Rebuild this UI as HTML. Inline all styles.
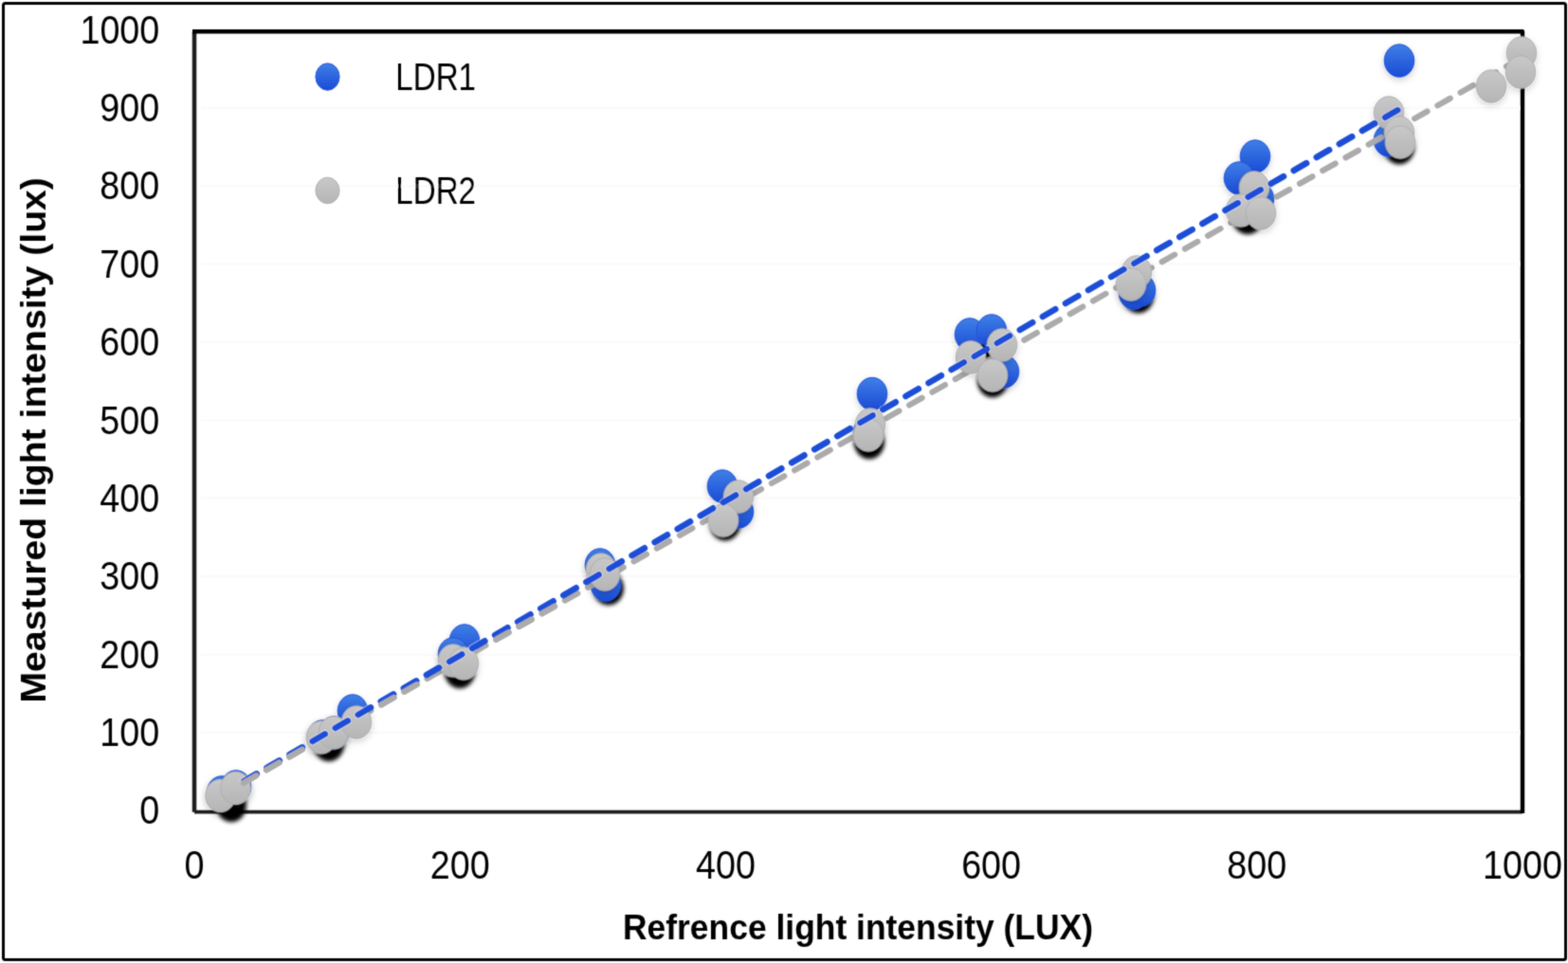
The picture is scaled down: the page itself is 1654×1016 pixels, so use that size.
<!DOCTYPE html>
<html><head><meta charset="utf-8"><title>LDR calibration chart</title>
<style>
html,body{margin:0;padding:0;background:#fff;}
svg{display:block;}
text{font-family:"Liberation Sans",Arial,sans-serif;fill:#000;}
</style></head><body>
<svg width="1654" height="1016" viewBox="0 0 1654 1016">
<defs>
<linearGradient id="gb" x1="0" y1="0" x2="0" y2="1">
<stop offset="0" stop-color="#3f7fe6"/><stop offset="1" stop-color="#1a4bd6"/></linearGradient>
<linearGradient id="gg" x1="0" y1="0" x2="0" y2="1">
<stop offset="0" stop-color="#c8c8c8"/><stop offset="1" stop-color="#b5b5b5"/></linearGradient>
<filter id="sh" x="-50%" y="-50%" width="200%" height="200%">
<feDropShadow dx="0" dy="3" stdDeviation="3.5" flood-color="#000" flood-opacity="0.18"/></filter>
<filter id="bl" x="-50%" y="-50%" width="200%" height="200%"><feGaussianBlur stdDeviation="2.2"/></filter>
<filter id="soft" x="0" y="0" width="100%" height="100%" filterUnits="userSpaceOnUse"><feConvolveMatrix order="3" kernelMatrix="1 4 1 4 16 4 1 4 1" divisor="36" edgeMode="duplicate" preserveAlpha="false"/></filter>
<filter id="ln" x="-5%" y="-5%" width="110%" height="110%"><feGaussianBlur stdDeviation="0.6"/></filter>
<clipPath id="lowclip"><rect x="251.8" y="560" width="72.6" height="300"/><rect x="397.1" y="560" width="48.4" height="300"/><rect x="518.2" y="560" width="72.6" height="300"/></clipPath>
<clipPath id="dotclip"><ellipse cx="232.5" cy="839.5" rx="15.8" ry="17.2"/><ellipse cx="248.5" cy="831.5" rx="15.8" ry="17.2"/><ellipse cx="339" cy="778" rx="15.8" ry="17.2"/><ellipse cx="352" cy="773" rx="15.8" ry="17.2"/><ellipse cx="376" cy="762" rx="15.8" ry="17.2"/><ellipse cx="478" cy="697" rx="15.8" ry="17.2"/><ellipse cx="489" cy="700" rx="15.8" ry="17.2"/><ellipse cx="634" cy="601" rx="15.8" ry="17.2"/><ellipse cx="638" cy="606" rx="15.8" ry="17.2"/><ellipse cx="779" cy="524" rx="15.8" ry="17.2"/><ellipse cx="763" cy="549" rx="15.8" ry="17.2"/><ellipse cx="918" cy="448" rx="15.8" ry="17.2"/><ellipse cx="916" cy="459" rx="15.8" ry="17.2"/><ellipse cx="1057" cy="364" rx="15.8" ry="17.2"/><ellipse cx="1024" cy="377" rx="15.8" ry="17.2"/><ellipse cx="1047" cy="396" rx="15.8" ry="17.2"/><ellipse cx="1199" cy="287" rx="15.8" ry="17.2"/><ellipse cx="1193" cy="300" rx="15.8" ry="17.2"/><ellipse cx="1323" cy="198" rx="15.8" ry="17.2"/><ellipse cx="1309" cy="222" rx="15.8" ry="17.2"/><ellipse cx="1330" cy="225" rx="15.8" ry="17.2"/><ellipse cx="1465" cy="119" rx="15.8" ry="17.2"/><ellipse cx="1476" cy="140" rx="15.8" ry="17.2"/><ellipse cx="1477" cy="150" rx="15.8" ry="17.2"/><ellipse cx="1573" cy="91" rx="15.8" ry="17.2"/><ellipse cx="1605" cy="56" rx="15.8" ry="17.2"/><ellipse cx="1604" cy="76" rx="15.8" ry="17.2"/><ellipse cx="249" cy="830" rx="15.8" ry="17.2"/><ellipse cx="234" cy="836" rx="15.8" ry="17.2"/><ellipse cx="372" cy="750" rx="15.8" ry="17.2"/><ellipse cx="340" cy="777" rx="15.8" ry="17.2"/><ellipse cx="352" cy="773" rx="15.8" ry="17.2"/><ellipse cx="490" cy="676" rx="15.8" ry="17.2"/><ellipse cx="478" cy="690" rx="15.8" ry="17.2"/><ellipse cx="633" cy="596" rx="15.8" ry="17.2"/><ellipse cx="639" cy="617" rx="15.8" ry="17.2"/><ellipse cx="762" cy="513" rx="15.8" ry="17.2"/><ellipse cx="779" cy="540" rx="15.8" ry="17.2"/><ellipse cx="920" cy="415.5" rx="15.8" ry="17.2"/><ellipse cx="916" cy="456" rx="15.8" ry="17.2"/><ellipse cx="1023" cy="353" rx="15.8" ry="17.2"/><ellipse cx="1046" cy="349" rx="15.8" ry="17.2"/><ellipse cx="1059" cy="392" rx="15.8" ry="17.2"/><ellipse cx="1196" cy="309" rx="15.8" ry="17.2"/><ellipse cx="1203" cy="306" rx="15.8" ry="17.2"/><ellipse cx="1324" cy="165" rx="15.8" ry="17.2"/><ellipse cx="1307" cy="188" rx="15.8" ry="17.2"/><ellipse cx="1328" cy="210" rx="15.8" ry="17.2"/><ellipse cx="1476" cy="64" rx="15.8" ry="17.2"/><ellipse cx="1465" cy="148" rx="15.8" ry="17.2"/></clipPath>
</defs>
<rect x="0" y="0" width="1654" height="1016" fill="#fff"/>
<g filter="url(#soft)">
<rect x="3.5" y="3.5" width="1648" height="1009" rx="2" fill="none" stroke="#000" stroke-width="3"/>
<line x1="212" y1="772.8" x2="1603" y2="772.8" stroke="#fbfbfb" stroke-width="3"/>
<line x1="212" y1="690.5" x2="1603" y2="690.5" stroke="#fbfbfb" stroke-width="3"/>
<line x1="212" y1="608.1" x2="1603" y2="608.1" stroke="#fbfbfb" stroke-width="3"/>
<line x1="212" y1="525.7" x2="1603" y2="525.7" stroke="#fbfbfb" stroke-width="3"/>
<line x1="212" y1="443.4" x2="1603" y2="443.4" stroke="#fbfbfb" stroke-width="3"/>
<line x1="212" y1="361.0" x2="1603" y2="361.0" stroke="#fbfbfb" stroke-width="3"/>
<line x1="212" y1="278.6" x2="1603" y2="278.6" stroke="#fbfbfb" stroke-width="3"/>
<line x1="212" y1="196.2" x2="1603" y2="196.2" stroke="#fbfbfb" stroke-width="3"/>
<line x1="212" y1="113.9" x2="1603" y2="113.9" stroke="#fbfbfb" stroke-width="3"/>
<path d="M205,856.7 L205,33.3" stroke="#1c1c1c" stroke-width="4.5" fill="none"/>
<path d="M205,856.7 L1606,856.7" stroke="#1c1c1c" stroke-width="3.8" fill="none"/>
<path d="M203,33.3 L1606,33.3 L1606,858" stroke="#000" stroke-width="4.4" fill="none" stroke-linejoin="round"/>
<text transform="translate(168.3 869.3) scale(0.9 1)" font-size="41.9" text-anchor="end">0</text>
<text transform="translate(168.3 786.9) scale(0.9 1)" font-size="41.9" text-anchor="end">100</text>
<text transform="translate(168.3 704.6) scale(0.9 1)" font-size="41.9" text-anchor="end">200</text>
<text transform="translate(168.3 622.2) scale(0.9 1)" font-size="41.9" text-anchor="end">300</text>
<text transform="translate(168.3 539.8) scale(0.9 1)" font-size="41.9" text-anchor="end">400</text>
<text transform="translate(168.3 457.5) scale(0.9 1)" font-size="41.9" text-anchor="end">500</text>
<text transform="translate(168.3 375.1) scale(0.9 1)" font-size="41.9" text-anchor="end">600</text>
<text transform="translate(168.3 292.7) scale(0.9 1)" font-size="41.9" text-anchor="end">700</text>
<text transform="translate(168.3 210.3) scale(0.9 1)" font-size="41.9" text-anchor="end">800</text>
<text transform="translate(168.3 128.0) scale(0.9 1)" font-size="41.9" text-anchor="end">900</text>
<text transform="translate(168.3 45.6) scale(0.9 1)" font-size="41.9" text-anchor="end">1000</text>
<text transform="translate(205.0 927.4) scale(0.9 1)" font-size="41.9" text-anchor="middle">0</text>
<text transform="translate(485.2 927.4) scale(0.9 1)" font-size="41.9" text-anchor="middle">200</text>
<text transform="translate(765.4 927.4) scale(0.9 1)" font-size="41.9" text-anchor="middle">400</text>
<text transform="translate(1045.6 927.4) scale(0.9 1)" font-size="41.9" text-anchor="middle">600</text>
<text transform="translate(1325.8 927.4) scale(0.9 1)" font-size="41.9" text-anchor="middle">800</text>
<text transform="translate(1606.0 927.4) scale(0.9 1)" font-size="41.9" text-anchor="middle">1000</text>
<text transform="translate(657 991.3) scale(0.945 1)" font-size="37.5" font-weight="bold">Refrence light intensity (LUX)</text>
<text transform="translate(47.8 741.5) rotate(-90) scale(1.038 0.96)" font-size="37.7" font-weight="bold">Meastured light intensity (lux)</text>
<ellipse cx="345.5" cy="81" rx="12.6" ry="14.2" fill="url(#gb)" stroke="#2a5bd8" stroke-width="1"/>
<ellipse cx="345.5" cy="201" rx="12.6" ry="13.8" fill="url(#gg)" stroke="#b0b0b0" stroke-width="1"/>
<text transform="translate(417.3 95.2) scale(0.805 1)" font-size="41.2">LDR1</text>
<text transform="translate(417.3 214.7) scale(0.805 1)" font-size="41.2">LDR2</text>
<g filter="url(#bl)">
<ellipse cx="244" cy="850" rx="15.8" ry="17.2" fill="#000"/><ellipse cx="347" cy="786" rx="15.8" ry="17.2" fill="#000"/><ellipse cx="485" cy="709" rx="15.8" ry="17.2" fill="#000"/><ellipse cx="642" cy="621" rx="15.8" ry="17.2" fill="#000"/><ellipse cx="765" cy="553" rx="15.8" ry="17.2" fill="#000"/><ellipse cx="917" cy="467" rx="15.8" ry="17.2" fill="#000"/><ellipse cx="1047" cy="402" rx="15.8" ry="17.2" fill="#000"/><ellipse cx="1040" cy="368" rx="15.8" ry="17.2" fill="#000"/><ellipse cx="1201" cy="313" rx="15.8" ry="17.2" fill="#000"/><ellipse cx="1316" cy="230" rx="15.8" ry="17.2" fill="#000"/><ellipse cx="1476" cy="156" rx="15.8" ry="17.2" fill="#000"/>
</g>
<g filter="url(#sh)">
<ellipse cx="249" cy="830" rx="15.8" ry="17.2" fill="url(#gb)" stroke="#2252d6" stroke-width="1"/><ellipse cx="234" cy="836" rx="15.8" ry="17.2" fill="url(#gb)" stroke="#2252d6" stroke-width="1"/><ellipse cx="372" cy="750" rx="15.8" ry="17.2" fill="url(#gb)" stroke="#2252d6" stroke-width="1"/><ellipse cx="340" cy="777" rx="15.8" ry="17.2" fill="url(#gb)" stroke="#2252d6" stroke-width="1"/><ellipse cx="352" cy="773" rx="15.8" ry="17.2" fill="url(#gb)" stroke="#2252d6" stroke-width="1"/><ellipse cx="490" cy="676" rx="15.8" ry="17.2" fill="url(#gb)" stroke="#2252d6" stroke-width="1"/><ellipse cx="478" cy="690" rx="15.8" ry="17.2" fill="url(#gb)" stroke="#2252d6" stroke-width="1"/><ellipse cx="633" cy="596" rx="15.8" ry="17.2" fill="url(#gb)" stroke="#2252d6" stroke-width="1"/><ellipse cx="639" cy="617" rx="15.8" ry="17.2" fill="url(#gb)" stroke="#2252d6" stroke-width="1"/><ellipse cx="762" cy="513" rx="15.8" ry="17.2" fill="url(#gb)" stroke="#2252d6" stroke-width="1"/><ellipse cx="779" cy="540" rx="15.8" ry="17.2" fill="url(#gb)" stroke="#2252d6" stroke-width="1"/><ellipse cx="920" cy="415.5" rx="15.8" ry="17.2" fill="url(#gb)" stroke="#2252d6" stroke-width="1"/><ellipse cx="916" cy="456" rx="15.8" ry="17.2" fill="url(#gb)" stroke="#2252d6" stroke-width="1"/><ellipse cx="1023" cy="353" rx="15.8" ry="17.2" fill="url(#gb)" stroke="#2252d6" stroke-width="1"/><ellipse cx="1046" cy="349" rx="15.8" ry="17.2" fill="url(#gb)" stroke="#2252d6" stroke-width="1"/><ellipse cx="1059" cy="392" rx="15.8" ry="17.2" fill="url(#gb)" stroke="#2252d6" stroke-width="1"/><ellipse cx="1196" cy="309" rx="15.8" ry="17.2" fill="url(#gb)" stroke="#2252d6" stroke-width="1"/><ellipse cx="1203" cy="306" rx="15.8" ry="17.2" fill="url(#gb)" stroke="#2252d6" stroke-width="1"/><ellipse cx="1324" cy="165" rx="15.8" ry="17.2" fill="url(#gb)" stroke="#2252d6" stroke-width="1"/><ellipse cx="1307" cy="188" rx="15.8" ry="17.2" fill="url(#gb)" stroke="#2252d6" stroke-width="1"/><ellipse cx="1328" cy="210" rx="15.8" ry="17.2" fill="url(#gb)" stroke="#2252d6" stroke-width="1"/><ellipse cx="1476" cy="64" rx="15.8" ry="17.2" fill="url(#gb)" stroke="#2252d6" stroke-width="1"/><ellipse cx="1465" cy="148" rx="15.8" ry="17.2" fill="url(#gb)" stroke="#2252d6" stroke-width="1"/>
</g>
<line x1="249.8" y1="829.9" x2="1606.0" y2="60.5" stroke="#ababab" stroke-width="6.2" stroke-dasharray="15.4 12.45" stroke-dashoffset="19.84" stroke-linecap="round"/>
<g filter="url(#sh)">
<ellipse cx="232.5" cy="839.5" rx="15.8" ry="17.2" fill="url(#gg)" stroke="#adadad" stroke-width="0.9"/><ellipse cx="248.5" cy="831.5" rx="15.8" ry="17.2" fill="url(#gg)" stroke="#adadad" stroke-width="0.9"/><ellipse cx="339" cy="778" rx="15.8" ry="17.2" fill="url(#gg)" stroke="#adadad" stroke-width="0.9"/><ellipse cx="352" cy="773" rx="15.8" ry="17.2" fill="url(#gg)" stroke="#adadad" stroke-width="0.9"/><ellipse cx="376" cy="762" rx="15.8" ry="17.2" fill="url(#gg)" stroke="#adadad" stroke-width="0.9"/><ellipse cx="478" cy="697" rx="15.8" ry="17.2" fill="url(#gg)" stroke="#adadad" stroke-width="0.9"/><ellipse cx="489" cy="700" rx="15.8" ry="17.2" fill="url(#gg)" stroke="#adadad" stroke-width="0.9"/><ellipse cx="634" cy="601" rx="15.8" ry="17.2" fill="url(#gg)" stroke="#adadad" stroke-width="0.9"/><ellipse cx="638" cy="606" rx="15.8" ry="17.2" fill="url(#gg)" stroke="#adadad" stroke-width="0.9"/><ellipse cx="779" cy="524" rx="15.8" ry="17.2" fill="url(#gg)" stroke="#adadad" stroke-width="0.9"/><ellipse cx="763" cy="549" rx="15.8" ry="17.2" fill="url(#gg)" stroke="#adadad" stroke-width="0.9"/><ellipse cx="918" cy="448" rx="15.8" ry="17.2" fill="url(#gg)" stroke="#adadad" stroke-width="0.9"/><ellipse cx="916" cy="459" rx="15.8" ry="17.2" fill="url(#gg)" stroke="#adadad" stroke-width="0.9"/><ellipse cx="1057" cy="364" rx="15.8" ry="17.2" fill="url(#gg)" stroke="#adadad" stroke-width="0.9"/><ellipse cx="1024" cy="377" rx="15.8" ry="17.2" fill="url(#gg)" stroke="#adadad" stroke-width="0.9"/><ellipse cx="1047" cy="396" rx="15.8" ry="17.2" fill="url(#gg)" stroke="#adadad" stroke-width="0.9"/><ellipse cx="1199" cy="287" rx="15.8" ry="17.2" fill="url(#gg)" stroke="#adadad" stroke-width="0.9"/><ellipse cx="1193" cy="300" rx="15.8" ry="17.2" fill="url(#gg)" stroke="#adadad" stroke-width="0.9"/><ellipse cx="1323" cy="198" rx="15.8" ry="17.2" fill="url(#gg)" stroke="#adadad" stroke-width="0.9"/><ellipse cx="1309" cy="222" rx="15.8" ry="17.2" fill="url(#gg)" stroke="#adadad" stroke-width="0.9"/><ellipse cx="1330" cy="225" rx="15.8" ry="17.2" fill="url(#gg)" stroke="#adadad" stroke-width="0.9"/><ellipse cx="1465" cy="119" rx="15.8" ry="17.2" fill="url(#gg)" stroke="#adadad" stroke-width="0.9"/><ellipse cx="1476" cy="140" rx="15.8" ry="17.2" fill="url(#gg)" stroke="#adadad" stroke-width="0.9"/><ellipse cx="1477" cy="150" rx="15.8" ry="17.2" fill="url(#gg)" stroke="#adadad" stroke-width="0.9"/><ellipse cx="1573" cy="91" rx="15.8" ry="17.2" fill="url(#gg)" stroke="#adadad" stroke-width="0.9"/><ellipse cx="1605" cy="56" rx="15.8" ry="17.2" fill="url(#gg)" stroke="#adadad" stroke-width="0.9"/><ellipse cx="1604" cy="76" rx="15.8" ry="17.2" fill="url(#gg)" stroke="#adadad" stroke-width="0.9"/>
</g>
<g clip-path="url(#dotclip)"><line x1="249.8" y1="828.5" x2="1475.7" y2="115.4" stroke="#fff" stroke-opacity="0.55" stroke-width="8.2" stroke-dasharray="15.4 12.45" stroke-dashoffset="19.12" stroke-linecap="round"/>
</g>
<line x1="249.8" y1="828.5" x2="1475.7" y2="115.4" stroke="#1c4ed6" stroke-width="6.6" stroke-dasharray="15.4 12.45" stroke-dashoffset="19.12" stroke-linecap="round"/>
<g clip-path="url(#lowclip)"><line x1="249.8" y1="829.9" x2="1606.0" y2="60.5" stroke="#ababab" stroke-width="6.2" stroke-dasharray="15.4 12.45" stroke-dashoffset="19.84" stroke-linecap="round"/>
</g>
</g>
</svg>
</body></html>
